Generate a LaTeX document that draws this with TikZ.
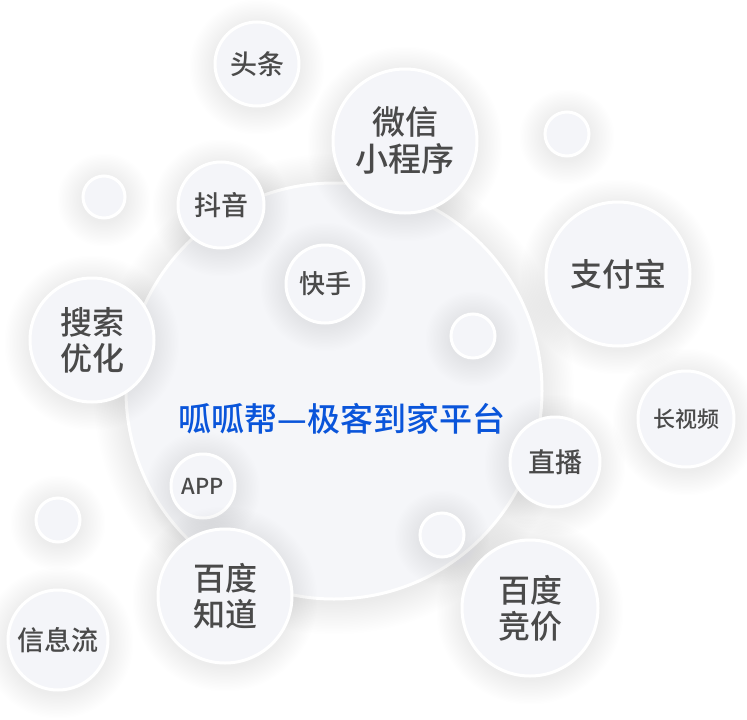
\documentclass[tikz,border=0pt]{standalone}
\usepackage{fontspec}
\setmainfont{Noto Sans CJK SC}[FontFace={mb}{n}{Noto Sans CJK SC Medium}]
\definecolor{bubfill}{HTML}{F4F5F9}
\definecolor{bigfill}{HTML}{F5F6F9}
\definecolor{shcol}{HTML}{C5CADB}
\definecolor{txt}{HTML}{4A4A4A}
\definecolor{mainblue}{HTML}{0A55DA}
\tikzset{
  bub/.style={circle, draw=white, line width=3pt, fill=bubfill, inner sep=0pt, text=txt, align=center},
  shlayer/.style={fill=shcol, opacity=0.012},
}
\newcommand\mybubble[7]{%
  \foreach \k in {1,...,18}{\fill[shlayer] (#2,#3+3) circle ({(#4+\k*1.4)*1pt});}
  \node[bub, minimum size={(2*#4)*1pt}, font={\fontsize{#5}{#6}\fontseries{mb}\selectfont}] (#1) at (#2,#3) {#7};
}
\begin{document}
\begin{tikzpicture}[x=1pt,y=-1pt]
\useasboundingbox (0,0) rectangle (747,720);
\fill[white] (0,0) rectangle (747,720);
% big circle
\foreach \k in {1,...,20}{\fill[shlayer] (334,394) circle ({(208+\k*1.6)*1pt});}
\node[circle, draw=white, line width=3pt, fill=bigfill, inner sep=0pt, minimum size=416pt] (big) at (334,391) {};
\node[text=mainblue, inner sep=0pt, font={\fontsize{33}{36}\fontseries{mb}\selectfont}] (main) at (342,419) {呱呱帮—极客到家平台};
% bubbles
\mybubble{toutiao}{257}{64}{42}{27}{30}{头条}
\mybubble{douyin}{221}{205}{43}{27}{30}{抖音}
\mybubble{e1}{104}{197}{21}{10}{12}{}
\mybubble{kuaishou}{325}{284}{39}{26}{29}{快手}
\mybubble{sousuo}{92}{340}{62}{32}{36}{搜索\\优化}
\mybubble{weixin}{405}{141}{72}{33}{37}{微信\\小程序}
\mybubble{e2}{567}{134}{22}{10}{12}{}
\mybubble{zhifubao}{618}{274}{72}{32}{36}{支付宝}
\mybubble{e3}{473}{336}{22}{10}{12}{}
\mybubble{app}{203}{486}{32}{22}{25}{APP}
\mybubble{e4}{58}{520}{22}{10}{12}{}
\mybubble{zhidao}{225}{596}{67}{32}{36}{百度\\知道}
\mybubble{xinxi}{58}{640}{50}{27}{30}{信息流}
\mybubble{changshipin}{686}{419}{48}{22}{25}{长视频}
\mybubble{zhibo}{555}{462}{45}{27}{30}{直播}
\mybubble{e5}{442}{535}{22}{10}{12}{}
\mybubble{jingjia}{530}{608}{68}{32}{36}{百度\\竞价}
\end{tikzpicture}
\end{document}
